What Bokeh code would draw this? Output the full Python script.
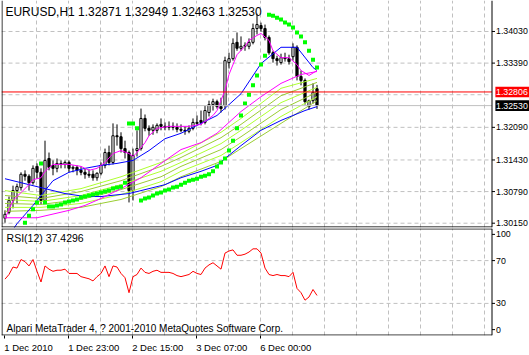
from bokeh.plotting import figure
from bokeh.models import Range1d, LinearAxis, FixedTicker, Grid, Label, ColumnDataSource
from bokeh.layouts import column
from bokeh.embed import file_html
from bokeh.resources import INLINE
from bokeh.core.properties import value

FONT = "Liberation Sans"

# ---------------- data ----------------
header_text = "EURUSD,H1  1.32871 1.32949 1.32463 1.32530"
rsi_text = "RSI(12) 37.4296"
copyright_text = "Alpari MetaTrader 4, ? 2001-2010 MetaQuotes Software Corp."

opens = [1.3025, 1.3037, 1.3061, 1.3081, 1.3087, 1.3114, 1.3110, 1.3097, 1.3130, 1.3118,
         1.3061, 1.3146, 1.3132, 1.3126, 1.3136, 1.3134, 1.3138, 1.3126, 1.3128, 1.3122,
         1.3118, 1.3114, 1.3114, 1.3107, 1.3116, 1.3132, 1.3158, 1.3138, 1.3192, 1.3190,
         1.3166, 1.3158, 1.3081, 1.3162, 1.3166, 1.3227, 1.3207, 1.3203, 1.3203, 1.3215,
         1.3211, 1.3209, 1.3211, 1.3209, 1.3205, 1.3203, 1.3201, 1.3207, 1.3219, 1.3223,
         1.3219, 1.3239, 1.3255, 1.3261, 1.3251, 1.3253, 1.3340, 1.3348, 1.3381, 1.3369,
         1.3373, 1.3373, 1.3381, 1.3409, 1.3415, 1.3409, 1.3391, 1.3360, 1.3348, 1.3340,
         1.3350, 1.3348, 1.3352, 1.3371, 1.3312, 1.3304, 1.3251, 1.3263, 1.32871]
highs = [1.3041, 1.3069, 1.3091, 1.3095, 1.3118, 1.3122, 1.3114, 1.3132, 1.3136, 1.3126,
         1.3182, 1.3158, 1.3142, 1.3146, 1.3142, 1.3142, 1.3142, 1.3132, 1.3132, 1.3130,
         1.3126, 1.3124, 1.3122, 1.3118, 1.3138, 1.3166, 1.3172, 1.3217, 1.3215, 1.3199,
         1.3182, 1.3162, 1.3166, 1.3203, 1.3247, 1.3235, 1.3213, 1.3215, 1.3217, 1.3227,
         1.3219, 1.3221, 1.3219, 1.3217, 1.3215, 1.3211, 1.3213, 1.3227, 1.3233, 1.3243,
         1.3253, 1.3263, 1.3267, 1.3265, 1.3269, 1.3352, 1.3360, 1.3389, 1.3401, 1.3393,
         1.3381, 1.3389, 1.3419, 1.3439, 1.3421, 1.3417, 1.3395, 1.3364, 1.3354, 1.3358,
         1.3360, 1.3356, 1.3379, 1.3375, 1.3324, 1.3308, 1.3265, 1.3298, 1.32949]
lows = [1.3016, 1.3033, 1.3045, 1.3055, 1.3081, 1.3101, 1.3081, 1.3093, 1.3105, 1.3053,
        1.3055, 1.3122, 1.3112, 1.3118, 1.3126, 1.3126, 1.3118, 1.3118, 1.3112, 1.3112,
        1.3105, 1.3107, 1.3101, 1.3101, 1.3112, 1.3126, 1.3132, 1.3134, 1.3172, 1.3158,
        1.3146, 1.3057, 1.3061, 1.3150, 1.3162, 1.3201, 1.3192, 1.3194, 1.3197, 1.3203,
        1.3203, 1.3203, 1.3203, 1.3199, 1.3199, 1.3194, 1.3197, 1.3203, 1.3213, 1.3213,
        1.3215, 1.3231, 1.3243, 1.3247, 1.3239, 1.3245, 1.3328, 1.3344, 1.3364, 1.3364,
        1.3364, 1.3367, 1.3377, 1.3397, 1.3403, 1.3385, 1.3356, 1.3340, 1.3334, 1.3336,
        1.3342, 1.3336, 1.3344, 1.3304, 1.3294, 1.3255, 1.3245, 1.3257, 1.32463]
closes = [1.3033, 1.3061, 1.3081, 1.3089, 1.3114, 1.3110, 1.3097, 1.3126, 1.3118, 1.3061,
          1.3142, 1.3128, 1.3126, 1.3136, 1.3134, 1.3138, 1.3126, 1.3128, 1.3122, 1.3118,
          1.3114, 1.3112, 1.3107, 1.3116, 1.3132, 1.3158, 1.3138, 1.3192, 1.3190, 1.3166,
          1.3158, 1.3081, 1.3152, 1.3166, 1.3227, 1.3207, 1.3203, 1.3209, 1.3213, 1.3211,
          1.3209, 1.3211, 1.3209, 1.3205, 1.3203, 1.3201, 1.3207, 1.3219, 1.3217, 1.3219,
          1.3243, 1.3255, 1.3261, 1.3251, 1.3247, 1.3344, 1.3348, 1.3379, 1.3369, 1.3373,
          1.3375, 1.3381, 1.3409, 1.3417, 1.3409, 1.3391, 1.3360, 1.3348, 1.3344, 1.3350,
          1.3348, 1.3342, 1.3371, 1.3312, 1.3304, 1.3261, 1.3263, 1.3280, 1.32530]
bars = list(range(len(closes)))

rsi = [52.7, 57, 64, 63, 71, 69, 65, 71, 60, 50,
       65, 62, 60, 61, 61, 62, 58, 58, 58, 55,
       54, 53, 51, 55, 58, 65, 55, 65, 64, 58,
       54, 40, 55, 57, 63, 59, 58, 60, 61, 59,
       59, 59, 58, 56, 55, 56, 57, 60, 58, 57,
       63, 66, 68, 65, 62, 77, 79, 80, 75, 75,
       76, 78, 81, 81, 77, 63, 57, 56, 57, 56,
       56, 55, 59, 44, 40, 33, 36, 43, 37.43]

sar_x = list(range(5, 79))
sar_y = [1.3016, 1.3030, 1.3043, 1.3057, 1.3136, 1.3057, 1.3049, 1.3049, 1.3051, 1.3053,
         1.3057, 1.3059, 1.3061, 1.3063, 1.3067, 1.3069, 1.3071, 1.3073, 1.3075, 1.3077,
         1.3079, 1.3081, 1.3085, 1.3087, 1.3089, 1.3097, 1.3217, 1.3217, 1.3207, 1.3061,
         1.3065, 1.3067, 1.3071, 1.3075, 1.3077, 1.3081, 1.3083, 1.3087, 1.3089, 1.3093,
         1.3097, 1.3101, 1.3103, 1.3105, 1.3109, 1.3111, 1.3114, 1.3120, 1.3130, 1.3138,
         1.3146, 1.3162, 1.3182, 1.3207, 1.3233, 1.3257, 1.3275, 1.3294, 1.3314, 1.3336,
         1.3354, 1.3437, 1.3435, 1.3431, 1.3427, 1.3421, 1.3417, 1.3411, 1.3401, 1.3393,
         1.3381, 1.3364, 1.3346, 1.3330]

fast_ma_x = [0, 2, 6, 7, 9, 10, 12, 16, 19, 21, 23, 25, 27, 29, 31, 32, 33, 35, 36, 38,
             41, 44, 46, 49, 51, 52, 53, 55, 56, 58, 60, 61, 63, 64, 66, 67, 69, 71, 73, 74, 76, 78]
fast_ma_y = [1.3024, 1.3061, 1.3093, 1.3103, 1.3107, 1.3120, 1.3134, 1.3134, 1.3130, 1.3122,
             1.3126, 1.3138, 1.3156, 1.3162, 1.3156, 1.3150, 1.3158, 1.3178, 1.3192, 1.3207,
             1.3211, 1.3211, 1.3211, 1.3215, 1.3227, 1.3233, 1.3243, 1.3284, 1.3316, 1.3356,
             1.3373, 1.3385, 1.3395, 1.3399, 1.3385, 1.3364, 1.3350, 1.3350, 1.3336, 1.3324,
             1.3314, 1.3324]

slow_ma_x = [0, 8, 16, 20, 24, 29, 34, 39, 44, 49, 53, 56, 59, 64, 69, 74, 78]
slow_ma_y = [1.3026, 1.3026, 1.3041, 1.3051, 1.3065, 1.3085, 1.3107, 1.3136, 1.3164, 1.3178,
             1.3197, 1.3219, 1.3241, 1.3271, 1.3298, 1.3316, 1.3322]

mid_blue_x = [2, 3, 7, 12, 16, 20, 24, 28, 32, 36, 40, 44, 48, 53, 56, 59, 64, 69, 73, 77, 78]
mid_blue_y = [1.3002, 1.3014, 1.3051, 1.3101, 1.3118, 1.3126, 1.3132, 1.3136, 1.3142, 1.3162,
              1.3186, 1.3197, 1.3213, 1.3233, 1.3255, 1.3277, 1.3338, 1.3371, 1.3371, 1.3330,
              1.3324]

long_blue_x = [0, 7, 15, 20, 24, 31, 36, 40, 44, 49, 53, 55, 59, 64, 69, 75, 78]
long_blue_y = [1.3105, 1.3091, 1.3075, 1.3069, 1.3069, 1.3075, 1.3085, 1.3093, 1.3107, 1.3120,
               1.3132, 1.3146, 1.3172, 1.3203, 1.3223, 1.3243, 1.3251]

ribbon_x = [0, 9, 19, 29, 39, 44, 54, 59, 69, 78]
ribbon_1 = [1.3081, 1.3071, 1.3085, 1.3109, 1.3138, 1.3156, 1.3199, 1.3227, 1.3288, 1.3308]
ribbon_2 = [1.3071, 1.3065, 1.3079, 1.3101, 1.3130, 1.3148, 1.3188, 1.3215, 1.3273, 1.3300]
ribbon_3 = [1.3063, 1.3059, 1.3071, 1.3093, 1.3120, 1.3138, 1.3176, 1.3203, 1.3259, 1.3290]
ribbon_4 = [1.3055, 1.3053, 1.3063, 1.3083, 1.3109, 1.3130, 1.3164, 1.3190, 1.3245, 1.3280]
ribbon_5 = [1.3047, 1.3047, 1.3055, 1.3073, 1.3099, 1.3120, 1.3152, 1.3178, 1.3231, 1.3271]
ribbon_6 = [1.3039, 1.3041, 1.3047, 1.3063, 1.3089, 1.3109, 1.3140, 1.3166, 1.3217, 1.3263]

alert_level = 1.32806
alert_label = "1.32806"
bid_level = 1.32530
bid_label = "1.32530"

price_ticks = [1.30150, 1.30790, 1.31430, 1.32090, 1.33390, 1.34030]
price_tick_labels = ["1.30150", "1.30790", "1.31430", "1.32090", "1.33390", "1.34030"]
price_grid = [1.30150, 1.30790, 1.31430, 1.32090, 1.32750, 1.33390, 1.34030]

rsi_ticks = [5.5, 30, 70, 94.5]
rsi_tick_labels = ["0", "30", "70", "100"]
rsi_grid = [30, 70]

time_tick_pos = [-0.25, 15.75, 31.75, 47.75, 63.75]
time_label_pos = [5.9, 22.2, 38.2, 54.2, 70.2]
time_labels = ["1 Dec 2010", "1 Dec 23:00", "2 Dec 15:00", "3 Dec 07:00", "6 Dec 00:00"]
vgrid = [7.75 + 8 * k for k in range(15)]

# ---------------- layout constants (bar-index units, 4 px per bar) ----------------
X0, X1 = -0.875, 131.125   # full canvas width (528 px)
FRAME_R = 121.75           # right border of the chart panes
TICK_R = 122.5             # end of scale tick marks
LABEL_X = 122.75           # scale labels
TAG_L, TAG_R = 122.6, 131.2
TAG_HALF = 0.00107         # half-height of the price tags (price units)
P_LO, P_HI = 1.30063, 1.34657
P_BORDER = 1.30074
R_TOP, R_BOT = 99.6, 0.4
SCALE_FONT = "8.8px"

GRID_STYLE = dict(line_color="#C0C0C0", line_dash="4 3", line_width=1)
xr = Range1d(X0, X1)


def pane(height, y_range, bottom):
    return figure(width=529, height=height, x_range=xr, y_range=y_range,
                  x_axis_type=None, y_axis_type=None, output_backend="svg",
                  toolbar_location=None, min_border_left=1, min_border_right=0,
                  min_border_top=0, min_border_bottom=bottom,
                  background_fill_color="white", border_fill_color="white",
                  outline_line_color=None)


def scale(fig, ticks, labels):
    n = len(ticks)
    fig.segment(x0=[FRAME_R] * n, y0=ticks, x1=[TICK_R] * n, y1=ticks,
                line_color="black", line_width=1)
    fig.text(x=[LABEL_X] * n, y=ticks, text=labels, text_font=value(FONT),
             text_font_size=value(SCALE_FONT), text_baseline="middle", text_align="left",
             text_color="black")


def borders(fig, lo, hi, bottom_y, top_y=None):
    xs0 = [X0 + 0.125, FRAME_R, X0]
    ys0 = [lo, lo, bottom_y]
    xs1 = [X0 + 0.125, FRAME_R, FRAME_R]
    ys1 = [hi, hi, bottom_y]
    if top_y is not None:
        xs0.append(X0); ys0.append(top_y); xs1.append(FRAME_R); ys1.append(top_y)
    fig.segment(x0=xs0, y0=ys0, x1=xs1, y1=ys1, line_color="black", line_width=1)


# ---------------- main price pane ----------------
p = pane(228, Range1d(P_LO, P_HI), 1)
p.add_layout(Grid(dimension=0, ticker=FixedTicker(ticks=vgrid), grid_line_color="#C0C0C0",
                  grid_line_dash="4 3", grid_line_width=1), "center")
p.segment(x0=[X0] * len(price_grid), y0=price_grid, x1=[FRAME_R] * len(price_grid),
          y1=price_grid, **GRID_STYLE)

src = ColumnDataSource(dict(
    x=bars, h=highs, l=lows,
    top=[max(o, c) for o, c in zip(opens, closes)],
    bot=[min(o, c) for o, c in zip(opens, closes)],
    fill=["white" if c >= o else "black" for o, c in zip(opens, closes)],
))
p.segment(x0="x", y0="h", x1="x", y1="l", source=src, line_color="black", line_width=1)
p.vbar(x="x", top="top", bottom="bot", width=0.55, fill_color="fill",
       line_color="black", line_width=1, source=src)

ribbon_colors = ["#ADFF2F", "#9ACD32", "#ADFF2F", "#9ACD32", "#ADFF2F", "#9ACD32"]
for ys, col in zip([ribbon_1, ribbon_2, ribbon_3, ribbon_4, ribbon_5, ribbon_6], ribbon_colors):
    p.line(ribbon_x, ys, line_color=col, line_width=1)
p.line(long_blue_x, long_blue_y, line_color="#0000FF", line_width=1)
p.line(mid_blue_x, mid_blue_y, line_color="#0000FF", line_width=1)
p.line(slow_ma_x, slow_ma_y, line_color="#FF00FF", line_width=1)
p.line(fast_ma_x, fast_ma_y, line_color="#FF00FF", line_width=1)
p.scatter(sar_x, sar_y, marker="square", size=4, fill_color="#00FF00", line_color=None)

p.segment(x0=[X0], y0=[bid_level], x1=[FRAME_R], y1=[bid_level], line_color="#C0C0C0", line_width=1)
p.segment(x0=[X0], y0=[alert_level], x1=[FRAME_R], y1=[alert_level], line_color="#FF0000", line_width=1)

borders(p, P_LO, P_HI, P_BORDER)
scale(p, price_ticks, price_tick_labels)

p.quad(left=[TAG_L, TAG_L], right=[TAG_R, TAG_R],
       bottom=[alert_level - TAG_HALF, bid_level - TAG_HALF],
       top=[alert_level + TAG_HALF, bid_level + TAG_HALF],
       fill_color=["#FF0000", "black"], line_color=None)
p.text(x=[LABEL_X, LABEL_X], y=[alert_level, bid_level], text=[alert_label, bid_label],
       text_font=value(FONT), text_font_size=value(SCALE_FONT), text_baseline="middle",
       text_align="left", text_color="white")

p.add_layout(Label(x=0.1, y=1.34424, text=header_text, text_font=FONT,
                   text_font_size="12px", text_baseline="middle", text_color="black"))

# ---------------- RSI pane ----------------
q = pane(127, Range1d(0, 100), 17)
q.add_layout(Grid(dimension=0, ticker=FixedTicker(ticks=vgrid), grid_line_color="#C0C0C0",
                  grid_line_dash="4 3", grid_line_width=1), "center")
q.segment(x0=[X0] * len(rsi_grid), y0=rsi_grid, x1=[FRAME_R] * len(rsi_grid), y1=rsi_grid,
          **GRID_STYLE)

bx = LinearAxis(ticker=FixedTicker(ticks=time_label_pos, minor_ticks=time_tick_pos),
                major_label_overrides=dict(zip(time_label_pos, time_labels)))
bx.axis_line_color = None
bx.major_tick_in = 0
bx.major_tick_out = 0
bx.major_tick_line_color = None
bx.minor_tick_in = 0
bx.minor_tick_out = 3
bx.minor_tick_line_color = "black"
bx.major_label_standoff = 3
bx.major_label_text_font = FONT
bx.major_label_text_font_size = "9.5px"
bx.major_label_text_color = "black"
q.add_layout(bx, "below")

q.line(bars, rsi, line_color="#FF0000", line_width=1)
borders(q, 0, 100, R_BOT, R_TOP)
scale(q, rsi_ticks, rsi_tick_labels)

q.add_layout(Label(x=0.4, y=91, text=rsi_text, text_font=FONT, text_font_size="10.5px",
                   text_baseline="middle", text_color="black"))
q.add_layout(Label(x=0.4, y=6.5, text=copyright_text, text_font=FONT, text_font_size="10px",
                   text_baseline="middle", text_color="black"))

layout = column(p, q, spacing=0)
open("out.html", "w").write(file_html(layout, INLINE))
